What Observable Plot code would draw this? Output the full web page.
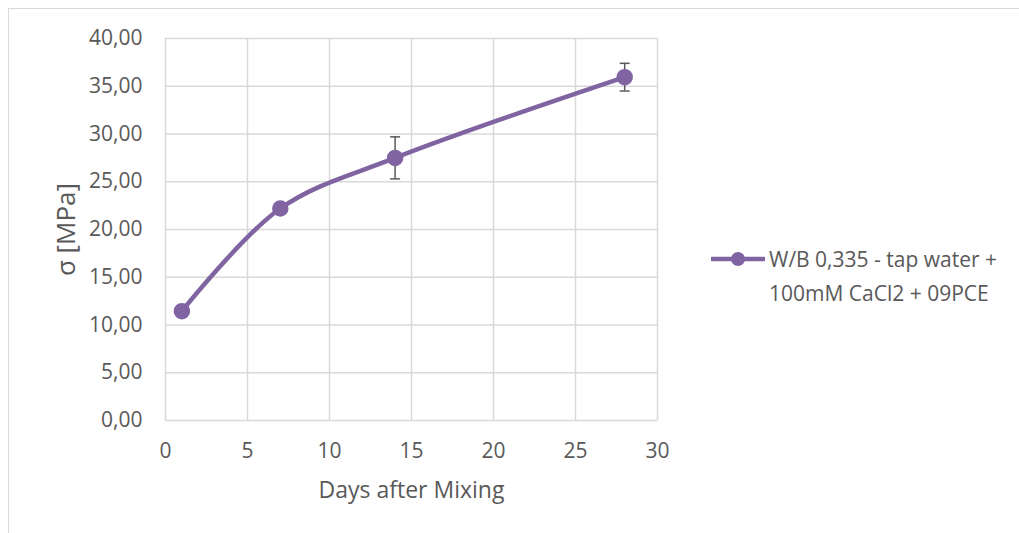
<!DOCTYPE html>
<html>
<head>
<meta charset="utf-8">
<script src="https://cdn.jsdelivr.net/npm/d3@7"></script>
<script src="https://cdn.jsdelivr.net/npm/@observablehq/plot@0.6"></script>
<style>
  html, body { margin: 0; padding: 0; background: #fff; }
  body { width: 1019px; height: 533px; position: relative; overflow: hidden; font-family: "Open Sans", sans-serif; }
  #frame { position: absolute; left: 8px; top: 8px; width: 1030px; height: 540px; border: 1px solid #d9d9d9; box-sizing: border-box; }
  #chart { position: absolute; left: 0; top: 0; }
  #legend { position: absolute; left: 711px; top: 242px; color: #595959; font-size: 21px; line-height: 34px; white-space: nowrap; }
  #legend .row { display: flex; align-items: center; }
  #legend svg { margin-right: 4px; }
  #legend .cont { padding-left: 58px; }
</style>
</head>
<body>
<div id="frame"></div>
<div id="chart"></div>
<div id="legend"></div>
<script>
// Compressive strength development, W/B 0.335 mix
const seriesName = ["W/B 0,335 - tap water +", "100mM CaCl2 + 09PCE"];
const days = [1, 7, 14, 28];
const strength = [11.45, 22.2, 27.5, 35.95];
const stdev = [0.3, 0.3, 2.2, 1.45];
const xTicks = [0, 5, 10, 15, 20, 25, 30];
const yTicks = [0, 5, 10, 15, 20, 25, 30, 35, 40];

const lineColor = "#8064a2";
const textColor = "#595959";
const gridColor = "#d9d9d9";

const data = days.map((d, i) => ({day: d, s: strength[i], lo: strength[i] - stdev[i], hi: strength[i] + stdev[i]}));

const fmt = v => v.toFixed(2).replace(".", ",");

// horizontal cap symbol for the error bars
const capSymbol = {
  draw(ctx, size) {
    const r = Math.sqrt(size / Math.PI);
    ctx.moveTo(-r, 0);
    ctx.lineTo(r, 0);
  }
};

const chart = Plot.plot({
  width: 1019,
  height: 533,
  marginLeft: 165,
  marginRight: 362,
  marginTop: 38,
  marginBottom: 113,
  style: {fontFamily: "Open Sans, sans-serif", fontSize: "21px", color: textColor, background: "transparent", overflow: "visible"},
  x: {domain: [0, 30], ticks: xTicks},
  y: {domain: [0, 40], ticks: yTicks},
  marks: [
    Plot.gridX(xTicks, {stroke: gridColor, strokeOpacity: 1, strokeWidth: 1.5}),
    Plot.gridY(yTicks, {stroke: gridColor, strokeOpacity: 1, strokeWidth: 1.5}),
    Plot.axisX(xTicks, {tickSize: 0, tickPadding: 23, fill: textColor, label: null, fontSize: 21}),
    Plot.axisY(yTicks, {tickSize: 0, tickPadding: 23, tickFormat: fmt, fill: textColor, label: null, fontSize: 21}),
    Plot.text(["Days after Mixing"], {frameAnchor: "bottom", textAnchor: "middle", dy: 77, fill: textColor, fontSize: 23}),
    Plot.text(["σ [MPa]"], {frameAnchor: "left", textAnchor: "middle", dx: -99, rotate: -90, fill: textColor, fontSize: 26}),
    Plot.line(data, {x: "day", y: "s", stroke: lineColor, strokeWidth: 4.5, curve: "catmull-rom"}),
    Plot.ruleX(data, {x: "day", y1: "lo", y2: "hi", stroke: textColor, strokeWidth: 1.5}),
    Plot.dot(data, {x: "day", y: "lo", symbol: capSymbol, r: 5, stroke: textColor, strokeWidth: 1.5}),
    Plot.dot(data, {x: "day", y: "hi", symbol: capSymbol, r: 5, stroke: textColor, strokeWidth: 1.5}),
    Plot.dot(data, {x: "day", y: "s", r: 7.5, fill: lineColor, stroke: lineColor})
  ]
});
document.getElementById("chart").appendChild(chart);

// legend entry
const legend = document.getElementById("legend");
legend.innerHTML =
  `<div class="row"><svg width="54" height="16"><line x1="1" x2="53" y1="8" y2="8" stroke="${lineColor}" stroke-width="4.5" stroke-linecap="round"/><circle cx="27" cy="8" r="7" fill="${lineColor}"/></svg><span>${seriesName[0]}</span></div>` +
  `<div class="cont">${seriesName[1]}</div>`;
</script>
</body>
</html>
